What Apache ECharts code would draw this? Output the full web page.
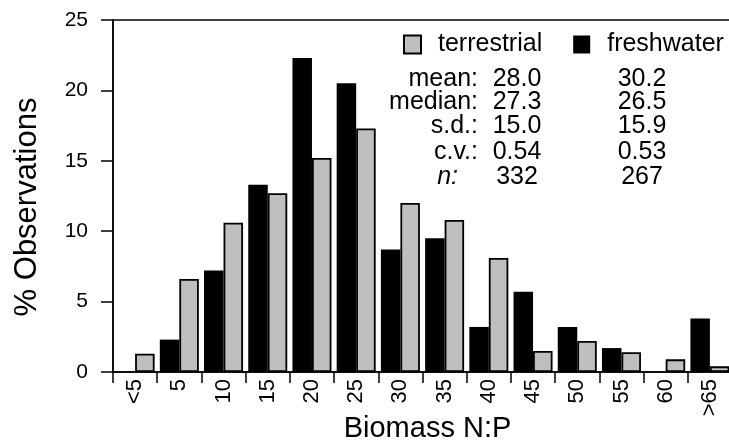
<!DOCTYPE html>
<html>
<head>
<meta charset="utf-8">
<script src="https://cdn.jsdelivr.net/npm/echarts@6/dist/echarts.min.js"></script>
<style>html,body{margin:0;padding:0;background:#fff}#c{width:729px;height:442px}</style>
</head>
<body>
<div id="c"></div>
<script>
const categories = ['<5','5','10','15','20','25','30','35','40','45','50','55','60','>65'];
const terrestrial = [1.3, 6.6, 10.6, 12.7, 15.2, 17.3, 12.0, 10.8, 8.1, 1.5, 2.2, 1.4, 0.9, 0.4];
const freshwater = [0, 2.3, 7.2, 13.3, 22.3, 20.5, 8.7, 9.5, 3.2, 5.7, 3.2, 1.7, 0, 3.8];
const yTicks = [0, 5, 10, 15, 20, 25];
const statLabels = ['mean:', 'median:', 's.d.:', 'c.v.:', 'n:'];
const terrestrialStats = ['28.0', '27.3', '15.0', '0.54', '332'];
const freshwaterStats = ['30.2', '26.5', '15.9', '0.53', '267'];

const FONT = '"Liberation Sans", Arial, Helvetica, sans-serif';
const rowY = [79, 102, 126, 152, 177];
const graphics = [];
statLabels.forEach((lab, i) => {
  const isN = lab === 'n:';
  graphics.push({type: 'text', x: isN ? 458 : 478, y: rowY[i],
    style: {text: lab, font: (isN ? 'italic ' : '') + '25px ' + FONT, fill: '#000',
      textAlign: 'right', textVerticalAlign: 'middle', align: 'right', verticalAlign: 'middle'}});
  graphics.push({type: 'text', x: 517, y: rowY[i],
    style: {text: terrestrialStats[i], font: '25px ' + FONT, fill: '#000',
      textAlign: 'center', textVerticalAlign: 'middle', align: 'center', verticalAlign: 'middle'}});
  graphics.push({type: 'text', x: 642, y: rowY[i],
    style: {text: freshwaterStats[i], font: '25px ' + FONT, fill: '#000',
      textAlign: 'center', textVerticalAlign: 'middle', align: 'center', verticalAlign: 'middle'}});
});

const chart = echarts.init(document.getElementById('c'), null, {renderer: 'canvas'});
chart.setOption({
  animation: false,
  backgroundColor: '#fff',
  textStyle: {fontFamily: FONT, color: '#000'},
  grid: {left: 113, top: 20, bottom: 70, width: 619, outerBoundsMode: 'none', containLabel: false,
    show: true, borderColor: '#000', borderWidth: 1.5, backgroundColor: 'transparent'},
  legend: {
    data: ['terrestrial', 'freshwater'],
    left: 403, top: 32, padding: 0,
    itemWidth: 17, itemHeight: 18, itemGap: 31,
    icon: 'rect',
    formatter: n => '{g|}' + n,
    textStyle: {fontSize: 25, fontFamily: FONT, color: '#000',
      rich: {g: {width: 12, fontSize: 25}}}
  },
  xAxis: {
    type: 'category', data: categories,
    boundaryGap: true,
    axisLine: {lineStyle: {color: '#000', width: 1.5}},
    axisTick: {show: true, length: 11, alignWithLabel: false, lineStyle: {color: '#000', width: 1.5}},
    axisLabel: {rotate: 90, fontSize: 22, color: '#000', margin: 7, interval: 0, fontFamily: FONT},
    name: 'Biomass N:P', nameLocation: 'middle', nameGap: 42, nameMoveOverlap: false,
    nameTextStyle: {fontSize: 29, color: '#000', fontFamily: FONT, padding: [0, 0, 0, 10]}
  },
  yAxis: {
    type: 'value', min: 0, max: 25, interval: 5,
    axisLine: {show: true, lineStyle: {color: '#000', width: 1.5}},
    axisTick: {show: true, length: 12, lineStyle: {color: '#000', width: 1.5}},
    axisLabel: {fontSize: 21, color: '#000', margin: 25, fontFamily: FONT,
      formatter: v => yTicks.includes(v) ? String(v) : ''},
    splitLine: {show: false},
    name: '% Observations', nameLocation: 'middle', nameGap: 70, nameMoveOverlap: false,
    nameTextStyle: {fontSize: 31, color: '#000', fontFamily: FONT, padding: [0, 22, 0, 0]}
  },
  series: [
    {name: 'freshwater', type: 'bar', data: freshwater, barWidth: 19.5, barGap: '0%',
      itemStyle: {color: '#000'}},
    {name: 'terrestrial', type: 'bar', data: terrestrial, barWidth: 19.5, barGap: '0%',
      itemStyle: {color: '#bfbfbf', borderColor: '#000', borderWidth: 1.8}}
  ],
  graphic: graphics
});
</script>
</body>
</html>
